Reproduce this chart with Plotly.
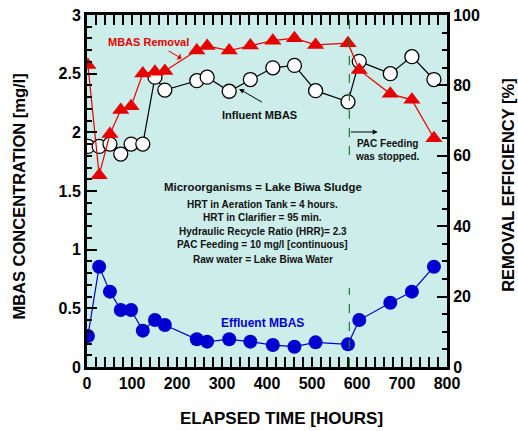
import plotly.graph_objects as go

hours = [2, 27, 51, 75, 98, 124, 151, 173, 244, 267, 316, 363, 413, 461, 508, 580, 605, 674, 722, 771]
influent = [1.88, 1.88, 1.90, 1.815, 1.90, 1.90, 2.47, 2.36, 2.44, 2.47, 2.35, 2.45, 2.55, 2.57, 2.355, 2.26, 2.605, 2.50, 2.645, 2.45]
effluent = [0.264, 0.855, 0.642, 0.486, 0.486, 0.31, 0.40, 0.358, 0.236, 0.216, 0.236, 0.216, 0.187, 0.173, 0.21, 0.193, 0.40, 0.548, 0.642, 0.855]
removal = [85.8, 54.5, 66.2, 73.0, 74.1, 83.4, 83.9, 84.1, 89.9, 91.2, 89.9, 91.3, 92.7, 93.4, 91.5, 92.0, 84.4, 77.6, 75.9, 65.0]

pac_stop = 583
info_lines = [
    "Microorganisms = Lake Biwa Sludge",
    "HRT in Aeration Tank = 4 hours.",
    "HRT in Clarifier = 95 min.",
    "Hydraulic Recycle Ratio (HRR)= 2.3",
    "PAC Feeding = 10 mg/l [continuous]",
    "Raw water = Lake Biwa Water",
]
info_y = [1.531, 1.389, 1.272, 1.153, 1.04, 0.92]

FONT = "Liberation Sans, Arial, sans-serif"

fig = go.Figure()
fig.add_trace(go.Scatter(x=hours, y=removal, yaxis="y2", mode="lines+markers",
                         line=dict(color="#e60000", width=1.2),
                         marker=dict(symbol="triangle-up", size=15, color="#e60000"),
                         showlegend=False))
fig.add_trace(go.Scatter(x=hours, y=influent, mode="lines+markers",
                         line=dict(color="black", width=1.2),
                         marker=dict(symbol="circle", size=14, color="white",
                                     line=dict(color="black", width=1.3)),
                         showlegend=False))
fig.add_trace(go.Scatter(x=hours, y=effluent, mode="lines+markers",
                         line=dict(color="#0000d0", width=1.2),
                         marker=dict(symbol="circle", size=14, color="#0000d0"),
                         showlegend=False))

# dashed line where PAC feeding stopped
for y0, y1 in [(1.807, 3.0), (0.0, 0.673)]:
    fig.add_shape(type="line", x0=pac_stop, x1=pac_stop, y0=y0, y1=y1, xref="x", yref="y",
                  line=dict(color="#1e7a30", width=1.2, dash="dash"))

ann = []
for txt, yy, sz in zip(info_lines, info_y, [11.4, 10, 10, 10, 10, 10]):
    ann.append(dict(x=391, y=yy, text=txt, showarrow=False,
                    font=dict(family=FONT, size=sz, color="#111", weight="bold")))
ann.append(dict(x=135.6, y=2.77, text="MBAS Removal", showarrow=False,
                font=dict(family=FONT, size=11, color="#e60000", weight="bold")))
ann.append(dict(x=210, y=2.63, ax=178, ay=2.70, axref="x", ayref="y", text="",
                showarrow=True, arrowhead=1, arrowsize=1.2, arrowwidth=1, arrowcolor="#e60000"))
ann.append(dict(x=384, y=2.148, text="Influent MBAS", showarrow=False,
                font=dict(family=FONT, size=11, color="#111", weight="bold")))
ann.append(dict(x=338, y=2.37, ax=392, ay=2.25, axref="x", ayref="y", text="",
                showarrow=True, arrowhead=2, arrowsize=1, arrowwidth=1, arrowcolor="black"))
ann.append(dict(x=390, y=0.375, text="Effluent MBAS", showarrow=False,
                font=dict(family=FONT, size=12, color="#0000d0", weight="bold")))
ann.append(dict(x=646, y=2.003, ax=583, ay=2.003, axref="x", ayref="y", text="",
                showarrow=True, arrowhead=2, arrowsize=1, arrowwidth=1, arrowcolor="black"))
ann.append(dict(x=667, y=1.85, text="PAC Feeding<br>was stopped.", showarrow=False,
                font=dict(family=FONT, size=10, color="#111", weight="bold")))
for a in ann:
    a.setdefault("xref", "x")
    a.setdefault("yref", "y")

# axis titles as paper annotations
ann.append(dict(x=0.539, y=-0.145, xref="paper", yref="paper", text="ELAPSED TIME [HOURS]",
                showarrow=False, font=dict(family=FONT, size=17, color="black", weight="bold")))
ann.append(dict(x=-0.189, y=0.484, xref="paper", yref="paper", text="MBAS CONCENTRATION [mg/l]",
                textangle=-90, showarrow=False,
                font=dict(family=FONT, size=16.5, color="black", weight="bold")))
ann.append(dict(x=1.169, y=0.517, xref="paper", yref="paper", text="REMOVAL EFFICIENCY [%]",
                textangle=-90, showarrow=False,
                font=dict(family=FONT, size=16.5, color="black", weight="bold")))
for a in ann:
    if a.get("text"):
        a["xanchor"] = "center"
        a["yanchor"] = "middle"

tickfont = dict(family=FONT, size=16, color="black", weight="bold")
common = dict(ticks="inside", ticklen=10, tickwidth=1.5, tickcolor="black",
              showline=True, linewidth=3, linecolor="black",
              showgrid=False, zeroline=False, tickfont=tickfont,
              automargin=False, ticklabeloverflow="allow")

fig.update_layout(
    width=518, height=431,
    margin=dict(l=87, r=71, t=15, b=64, autoexpand=False),
    paper_bgcolor="white", plot_bgcolor="#ccede9",
    annotations=ann,
    xaxis=dict(range=[0, 800], dtick=100, tick0=0, mirror="allticks",
               minor=dict(dtick=20, ticks="inside", ticklen=5, tickwidth=1.5, tickcolor="black"),
               **common),
    yaxis=dict(range=[0, 3], dtick=0.5, tick0=0,
               minor=dict(dtick=0.1, ticks="inside", ticklen=5, tickwidth=1.5, tickcolor="black"),
               **common),
    yaxis2=dict(range=[0, 100], dtick=20, tick0=0, overlaying="y", side="right",
                minor=dict(dtick=5, ticks="inside", ticklen=5, tickwidth=1.5, tickcolor="black"),
                **common),
)

fig.write_html("out.html", config={"displayModeBar": False},
               post_script="document.body.style.margin='0px';")
